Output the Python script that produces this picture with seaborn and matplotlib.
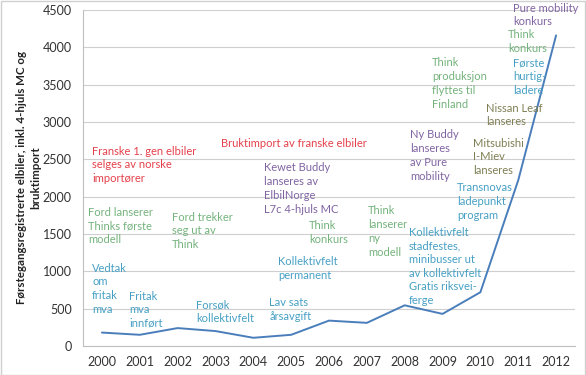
import matplotlib
matplotlib.use("Agg")
import matplotlib.pyplot as plt
import seaborn as sns
import numpy as np
from matplotlib.patches import Rectangle

# data
years = ['2000', '2001', '2002', '2003', '2004', '2005', '2006',
         '2007', '2008', '2009', '2010', '2011', '2012']
registrations = [180, 150, 240, 200, 110, 150, 340, 310, 545, 430, 720, 2220, 4160]
y_ticks = [0, 500, 1000, 1500, 2000, 2500, 3000, 3500, 4000, 4500]

RED = '#E5414B'
GREEN = '#74B37C'
BLUE = '#47A0C4'
PURPLE = '#8064A2'
OLIVE = '#7F7F55'

# events: text, x (category position), y (top of text), colour
events = [
    ('Franske 1. gen elbiler\nselges av norske\nimportører', -0.26, 2685, RED),
    ('Bruktimport av franske elbiler', 3.15, 2792, RED),
    ('Kewet Buddy\nlanseres av\nElbilNorge\nL7c 4-hjuls MC', 4.28, 2458, PURPLE),
    ('Pure mobility\nkonkurs', 10.86, 4600, PURPLE),
    ('Think\nkonkurs', 10.73, 4239, GREEN),
    ('Første\nhurtig-\nladere', 10.86, 3864, BLUE),
    ('Think\nproduksjon\nflyttes til\nFinland', 8.72, 3864, GREEN),
    ('Nissan Leaf\nlanseres', 10.15, 3261, OLIVE),
    ('Ny Buddy\nlanseres\nav Pure\nmobility', 8.14, 2900, PURPLE),
    ('Mitsubishi\nI-Miev\nlanseres', 9.80, 2792, OLIVE),
    ('Transnovas\nladepunkt\nprogram', 9.38, 2190, BLUE),
    ('Ford lanserer\nThinks første\nmodell', -0.37, 1868, GREEN),
    ('Ford trekker\nseg ut av\nThink', 1.85, 1801, GREEN),
    ('Vedtak\nom\nfritak\nmva', -0.26, 1118, BLUE),
    ('Fritak\nmva\ninnført', 0.72, 743, BLUE),
    ('Forsøk\nkollektivfelt', 2.49, 623, BLUE),
    ('Lav sats\nårsavgift', 4.42, 650, BLUE),
    ('Kollektivfelt\npermanent', 4.65, 1199, BLUE),
    ('Think\nkonkurs', 5.47, 1681, GREEN),
    ('Think\nlanserer\nny\nmodell', 7.03, 1882, GREEN),
    ('Kollektivfelt\nstadfestes,\nminibusser ut\nav kollektivfelt\nGratis riksvei-\nferge', 8.11, 1600, BLUE),
]

sns.set_theme(style='white')
plt.rcParams['font.family'] = ['Lato', 'DejaVu Sans']
narrow = ['Liberation Sans Narrow', 'Lato', 'DejaVu Sans']

fig = plt.figure(figsize=(5.86, 3.75), dpi=100)
ax = fig.add_axes([83 / 586, 1 - 346 / 375, 492 / 586, 336 / 375])

pos = np.arange(len(years))
sns.lineplot(x=pos, y=registrations, ax=ax, color='#4A7EBB', linewidth=1.4)

ax.set_xlim(-0.5, len(years) - 0.5)
ax.set_ylim(0, 4500)
ax.set_xticks(pos)
ax.set_xticklabels(years)
ax.set_yticks(y_ticks)
ax.tick_params(axis='both', length=0, labelsize=9, colors='#333333')
ax.tick_params(axis='y', pad=8)
ax.tick_params(axis='x', pad=7)
ax.grid(axis='y', color='#CFCFCF', linewidth=0.8)
ax.set_axisbelow(True)
for side in ['top', 'right']:
    ax.spines[side].set_visible(False)
for side in ['left', 'bottom']:
    ax.spines[side].set_color('#BFBFBF')
    ax.spines[side].set_linewidth(0.8)

ax.set_ylabel('Førstegangsregistrerte elbiler, inkl. 4-hjuls MC og\nbruktimport',
              fontsize=8.3, fontweight='bold', color='#222222',
              family=narrow, linespacing=1.3)
ax.yaxis.set_label_coords(-0.085, 0.5)

for txt, x, y, c in events:
    ax.text(x, y, txt, color=c, fontsize=8, va='top', ha='left',
            linespacing=1.3, clip_on=False, family=narrow)

fig.patches.append(Rectangle((0.001, 0.001), 0.997, 0.997, transform=fig.transFigure,
                             fill=False, edgecolor='#D0D0D0', linewidth=1))

fig.savefig('out.png', dpi=100)
